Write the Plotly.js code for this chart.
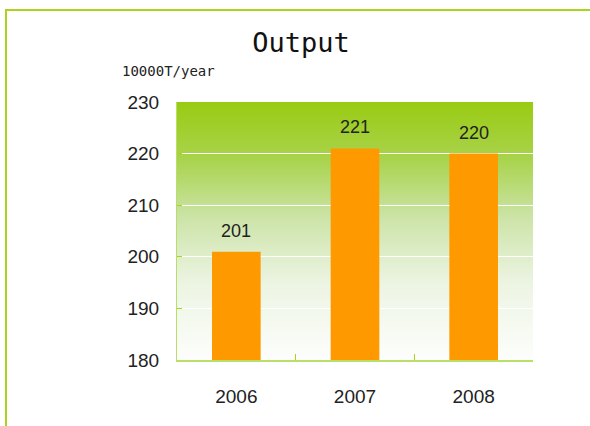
<!DOCTYPE html>
<html>
<head>
<meta charset="utf-8">
<script src="https://cdn.plot.ly/plotly-3.0.1.min.js"></script>
<style>
  body { margin: 0; background: #fff; }
  #wrap { position: relative; width: 590px; height: 426px; overflow: hidden; }
  #grafic { position: absolute; left: 0; top: 0; width: 590px; height: 426px; }
  /* marc verd de la imatge (només dalt i esquerra) */
  #marc { position: absolute; left: 5px; top: 9px; width: 700px; height: 600px;
          border-top: 2px solid #a8d41c; border-left: 2px solid #a8d41c; pointer-events: none; }
</style>
</head>
<body>
<div id="wrap">
  <div id="grafic"></div>
  <div id="marc"></div>
</div>
<script>
// DADES DEL GRAFIC
var anys = ['2006', '2007', '2008'];
var produccio = [201, 221, 220];
var etiquetesY = [180, 190, 200, 210, 220, 230];

var FONT_TEXT = 'Liberation Sans, Arial, sans-serif';

// fons en degradat (verd a dalt, blanc a baix)
var degradat = 'data:image/svg+xml;utf8,' + encodeURIComponent(
  '<svg xmlns="http://www.w3.org/2000/svg" width="100" height="100" preserveAspectRatio="none">' +
  '<defs><linearGradient id="g" x1="0" y1="0" x2="0" y2="1">' +
  '<stop offset="0" stop-color="#99cb12"/>' +
  '<stop offset="0.22" stop-color="#a9d34c"/>' +
  '<stop offset="0.45" stop-color="#cce4a8"/>' +
  '<stop offset="0.7" stop-color="#ecf4e2"/>' +
  '<stop offset="1" stop-color="#fdfefc"/>' +
  '</linearGradient></defs><rect width="100" height="100" fill="url(#g)"/></svg>');

var barres = {
  x: anys,
  y: produccio,
  type: 'bar',
  width: 0.41,
  marker: { color: '#ff9900' },
  hoverinfo: 'none'
};

// etiquetes de valor sobre cada barra (x = index de categoria)
var notes = anys.map(function (a, k) {
  return { x: k, y: produccio[k], text: String(produccio[k]), showarrow: false,
           yanchor: 'bottom', yshift: 9, font: { size: 18, color: '#222', family: FONT_TEXT } };
});
notes.push({ xref: 'paper', yref: 'paper', x: -0.025, y: 1.12, text: '10000T/year', showarrow: false,
             xanchor: 'center', yanchor: 'middle', font: { size: 14, color: '#222', family: 'DejaVu Sans Mono, monospace' } });

var layout = {
  width: 590,
  height: 426,
  margin: { l: 177, r: 57, t: 102, b: 66 },
  paper_bgcolor: 'rgba(0,0,0,0)',
  plot_bgcolor: 'rgba(0,0,0,0)',
  showlegend: false,
  title: { text: 'Output', xref: 'container', yref: 'container', x: 0.51, y: 0.9, xanchor: 'center', yanchor: 'middle',
           font: { size: 27, color: '#111', family: 'DejaVu Sans Mono, monospace' } },
  font: { family: FONT_TEXT, color: '#222' },
  xaxis: {
    type: 'category',
    range: [-0.5, 2.5],
    tickson: 'boundaries',
    ticks: 'inside', ticklen: 6, tickcolor: '#a8d41c', tickwidth: 1,
    showline: true, linecolor: '#b9de6a', linewidth: 2,
    showgrid: false,
    tickfont: { size: 19, color: '#222' },
    ticklabelstandoff: 18
  },
  yaxis: {
    range: [180, 230],
    tickvals: etiquetesY,
    ticks: 'inside', ticklen: 5, tickcolor: '#a8d41c',
    showline: true, linecolor: '#b9de6a', linewidth: 1,
    showgrid: true, gridcolor: '#ffffff', gridwidth: 1,
    zeroline: false,
    tickfont: { size: 19, color: '#222' },
    ticklabelstandoff: 13
  },
  images: [{ source: degradat, xref: 'paper', yref: 'paper', x: 0, y: 1, sizex: 1, sizey: 1,
             sizing: 'stretch', xanchor: 'left', yanchor: 'top', layer: 'below' }],
  annotations: notes
};

Plotly.newPlot('grafic', [barres], layout, { staticPlot: true, displayModeBar: false });
</script>
</body>
</html>
